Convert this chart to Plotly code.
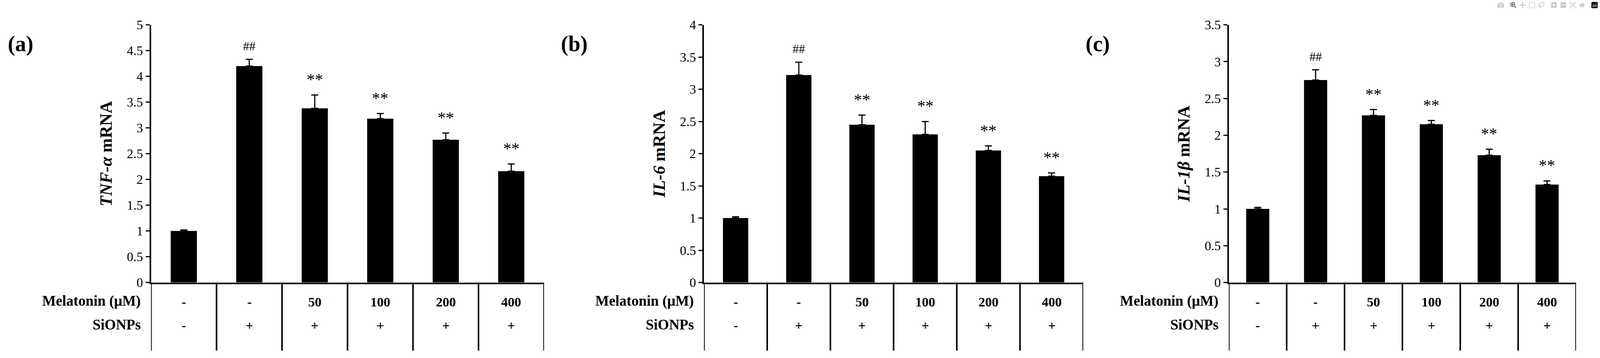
import plotly.graph_objects as go

melatonin = ["-", "-", "50", "100", "200", "400"]
sionps = ["-", "+", "+", "+", "+", "+"]

tnf_vals = [1.0, 4.2, 3.38, 3.18, 2.77, 2.16]
tnf_err = [0.02, 0.13, 0.26, 0.10, 0.13, 0.14]
il6_vals = [1.0, 3.22, 2.45, 2.30, 2.05, 1.65]
il6_err = [0.02, 0.20, 0.15, 0.20, 0.07, 0.05]
il1b_vals = [1.0, 2.75, 2.27, 2.15, 1.73, 1.33]
il1b_err = [0.02, 0.14, 0.08, 0.05, 0.08, 0.05]
marks = ["", "##", "**", "**", "**", "**"]

panels = [
    ("(a)", "<i>TNF-α</i> mRNA", tnf_vals, tnf_err, 5, 0.5, [0.0944, 0.340]),
    ("(b)", "<i>IL-6</i> mRNA", il6_vals, il6_err, 4, 0.5, [0.440, 0.677]),
    ("(c)", "<i>IL-1β</i> mRNA", il1b_vals, il1b_err, 3.5, 0.5, [0.768, 0.985]),
]

FONT = "Liberation Serif"
ydom = [0.198, 0.947]
fig = go.Figure()
layout = {}
shapes, annots = [], []
for i, (lab, ytitle, vals, err, ymax, dt, xdom) in enumerate(panels):
    n = "" if i == 0 else str(i + 1)
    xs = list(range(len(vals)))
    fig.add_trace(go.Bar(
        x=xs, y=vals, width=0.4, marker=dict(color="black", line=dict(width=0)),
        error_y=dict(type="data", symmetric=False, array=err, arrayminus=[0]*len(err),
                     color="black", thickness=3, width=9),
        xaxis="x" + n, yaxis="y" + n, showlegend=False))
    layout["xaxis" + n] = dict(domain=xdom, range=[-0.5, 5.5], anchor="y" + n,
                               showticklabels=False, ticks="", showline=True,
                               linecolor="black", linewidth=4, showgrid=False, zeroline=False)
    layout["yaxis" + n] = dict(domain=ydom, range=[0, ymax], dtick=dt, anchor="x" + n,
                               showline=True, linecolor="black", linewidth=4, ticks="outside",
                               ticklen=10, tickwidth=3, tickcolor="black", showgrid=False,
                               zeroline=False, tickfont=dict(family=FONT, size=33, color="black"),
                               title=dict(text="<b>" + ytitle + "</b>", standoff=25,
                                          font=dict(family=FONT, size=44, color="black")))
    xr = "x" + n
    for k in range(7):
        shapes.append(dict(type="line", xref=xr, yref="paper", x0=k - 0.5, x1=k - 0.5,
                           y0=0.0, y1=ydom[0], line=dict(color="black", width=4)))
    for k in range(6):
        annots.append(dict(xref=xr, yref="paper", x=k, y=0.118, text="<b>" + melatonin[k] + "</b>",
                           showarrow=False, font=dict(family=FONT, size=34, color="black")))
        annots.append(dict(xref=xr, yref="paper", x=k, y=0.05, text="<b>" + sionps[k] + "</b>",
                           showarrow=False, font=dict(family=FONT, size=34, color="black")))
        if marks[k]:
            annots.append(dict(xref=xr, yref="y" + n, x=k, y=vals[k] + err[k], yshift=14,
                               yanchor="bottom", text=marks[k], showarrow=False,
                               font=dict(family=FONT, size=(32 if marks[k] == "##" else 42), color="black")))
    annots.append(dict(xref="paper", yref="paper", x=xdom[0] - 0.006, y=0.118, xanchor="right",
                       text="<b>Melatonin (μM)</b>", showarrow=False,
                       font=dict(family=FONT, size=37, color="black")))
    annots.append(dict(xref="paper", yref="paper", x=xdom[0] - 0.006, y=0.05, xanchor="right",
                       text="<b>SiONPs</b>", showarrow=False,
                       font=dict(family=FONT, size=37, color="black")))
    annots.append(dict(xref="paper", yref="paper", x=xdom[0] - 0.09, y=0.93, xanchor="left",
                       text="<b>" + lab + "</b>", showarrow=False,
                       font=dict(family=FONT, size=56, color="black")))

fig.update_layout(autosize=True, plot_bgcolor="white", paper_bgcolor="white",
                  margin=dict(l=0, r=0, t=0, b=0), shapes=shapes, annotations=annots,
                  **layout)
fig.write_html("out.html", default_width="100vw", default_height="100vh",
               config={"responsive": True})
with open("out.html", encoding="utf-8") as f:
    html = f.read()
html = html.replace("<head>", "<head><style>html,body{margin:0;padding:0;overflow:hidden}</style>", 1)
with open("out.html", "w", encoding="utf-8") as f:
    f.write(html)
